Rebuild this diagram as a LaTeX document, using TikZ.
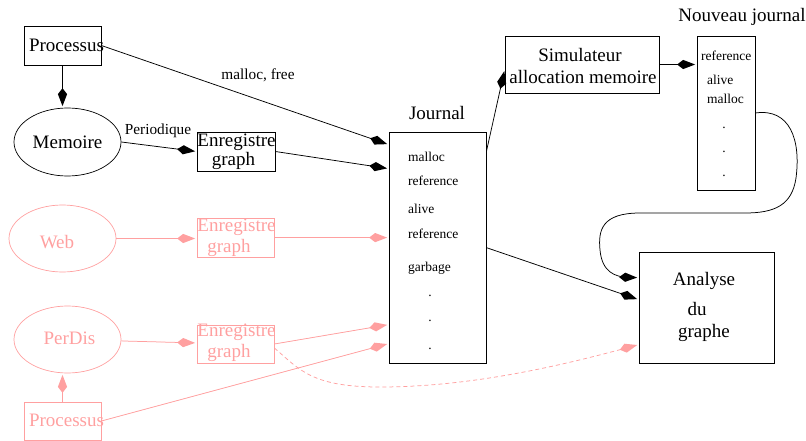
\documentclass[tikz,border=0pt]{standalone}
\usepackage{fontspec}
\setmainfont{Liberation Serif}
\usetikzlibrary{arrows.meta,shapes.geometric}
\definecolor{pinkc}{RGB}{255,160,160}
\pgfdeclarearrow{
  name = FigKite,
  parameters = {},
  setup code = {
    \pgfarrowssettipend{0pt}
    \pgfarrowssetbackend{-18pt}
    \pgfarrowssetlineend{-9pt}
    \pgfarrowsupperhullpoint{0pt}{0pt}
    \pgfarrowsupperhullpoint{-12pt}{4.6pt}
    \pgfarrowsupperhullpoint{-18pt}{0pt}
  },
  drawing code = {
    \pgfsetdash{}{0pt}
    \pgfpathmoveto{\pgfqpoint{0pt}{0pt}}
    \pgfpathlineto{\pgfqpoint{-12pt}{4.6pt}}
    \pgfpathlineto{\pgfqpoint{-18pt}{0pt}}
    \pgfpathlineto{\pgfqpoint{-12pt}{-4.6pt}}
    \pgfpathclose
    \pgfusepathqfill
  },
}
\tikzset{
  big/.style={font=\fontsize{19}{19}\selectfont, inner sep=0pt},
  med/.style={font=\fontsize{15.3}{17}\selectfont, inner sep=0pt},
  small/.style={font=\fontsize{13.5}{15}\selectfont, inner sep=0pt},
  arr/.style={-{FigKite}, shorten >=1.5pt},
  conn/.style={line width=0.75pt},
  box/.style={draw, line width=0.75pt, rectangle, inner sep=0pt},
  oval/.style={draw, line width=0.7pt, ellipse, inner sep=0pt},
  faded/.style={draw=pinkc, text=pinkc, fill=none},
  fadedline/.style={draw=pinkc, fill=pinkc},
}
\begin{document}
\begin{tikzpicture}[x=1pt,y=-1pt]
\useasboundingbox (0,0) rectangle (806,441);

% ---- black part ----
\node[box, minimum width=77pt, minimum height=39pt] (proc) at (62.5,45.5) {};
\node[big] (proct) at (66.5,45) {Processus};
\node[oval, minimum width=107pt, minimum height=68pt] (mem) at (67.5,142) {};
\node[big] (memt) at (67.5,142) {Memoire};
\node[box, minimum width=78pt, minimum height=39pt] (enr1) at (236,151.5) {};
\node[big] (enr1a) at (236.5,142) {Enregistre};
\node[big] (enr1b) at (233.5,161) {graph};

\node[box, minimum width=97pt, minimum height=231pt] (jour) at (437.5,247.5) {};
\node[big] (jourt) at (437,113) {Journal};
\node[small, anchor=base west] (j1) at (408,161.3) {malloc};
\node[small, anchor=base west] (j2) at (408,185.3) {reference};
\node[small, anchor=base west] (j3) at (408,213.9) {alive};
\node[small, anchor=base west] (j4) at (408,238.6) {reference};
\node[small, anchor=base west] (j5) at (408,271.1) {garbage};
\node[small, anchor=base] (j6) at (430,296) {.};
\node[small, anchor=base] (j7) at (430,321) {.};
\node[small, anchor=base] (j8) at (430,349) {.};

\node[box, minimum width=154pt, minimum height=57pt] (sim) at (582,64.5) {};
\node[big] (sima) at (580,55) {Simulateur};
\node[big] (simb) at (583,77) {allocation memoire};

\node[box, minimum width=58pt, minimum height=154pt] (nj) at (726,113) {};
\node[big] (njt) at (742,17) {Nouveau journal};
\node[small, anchor=base west] (n1) at (701,60.6) {reference};
\node[small, anchor=base west] (n2) at (707,84.6) {alive};
\node[small, anchor=base west] (n3) at (707,103.6) {malloc};
\node[small, anchor=base] (n4) at (724,129) {.};
\node[small, anchor=base] (n5) at (724,153) {.};
\node[small, anchor=base] (n6) at (724,176) {.};

\node[box, minimum width=135pt, minimum height=111pt] (ana) at (706.5,307.5) {};
\node[big] (anaa) at (704,281) {Analyse};
\node[big] (anab) at (697,309) {du};
\node[big] (anac) at (704,333) {graphe};

\node[med] (lmf) at (258,75) {malloc, free};
\node[med] (lper) at (158,131) {Periodique};

\draw[conn, arr] (proc.south) -- (proc.south |- mem.north);
\draw[conn, arr] (mem.east) -- (enr1.west);
\draw[conn, arr] (proc.east) -- ([yshift=-13pt]jour.north west);
\draw[conn, arr] (enr1.east) -- ([yshift=-37pt]jour.north west);
\draw[conn, arr] ([yshift=-20pt]jour.north east) -- ([yshift=-34pt]sim.north west);
\draw[conn, arr] (sim.east) -- (sim.east -| nj.west);
\draw[conn, arr] ([yshift=-116pt]jour.north east) -- ([yshift=-48pt]ana.north west);
\draw[conn, arr] (nj.east) .. controls (790,108) and (801,140) .. (796,178)
  .. controls (792,205) and (775,213) .. (745,213) -- (640,213)
  .. controls (602,213) and (598,230) .. (600,250)
  .. controls (602,272) and (615,277) .. ([yshift=-26pt]ana.north west);

% ---- pink part ----
\node[oval, faded, minimum width=107pt, minimum height=67pt] (web) at (62.5,238.5) {};
\node[big, text=pinkc] (webt) at (57,242) {Web};
\node[box, faded, minimum width=77pt, minimum height=39pt] (enr2) at (235.5,237.5) {};
\node[big, text=pinkc] (enr2a) at (236.5,227) {Enregistre};
\node[big, text=pinkc] (enr2b) at (229,248) {graph};

\node[oval, faded, minimum width=107pt, minimum height=67pt] (perdis) at (67.5,339.5) {};
\node[big, text=pinkc] (perdist) at (69.5,338) {PerDis};
\node[box, faded, minimum width=77pt, minimum height=38pt] (enr3) at (235.5,344) {};
\node[big, text=pinkc] (enr3a) at (236.5,332) {Enregistre};
\node[big, text=pinkc] (enr3b) at (229,353) {graph};

\node[box, faded, minimum width=77pt, minimum height=38pt] (proc2) at (62.5,421) {};
\node[big, text=pinkc] (proc2t) at (66.5,420) {Processus};

\draw[conn, arr, fadedline] (web.east) -- (web.east -| enr2.west);
\draw[conn, arr, fadedline] (enr2.east) -- ([yshift=-106pt]jour.north west);
\draw[conn, arr, fadedline] (perdis) -- (enr3);
\draw[conn, arr, fadedline] (enr3.east) -- ([yshift=-193pt]jour.north west);
\draw[conn, arr, fadedline] (proc2.north) -- (proc2.north |- perdis.south);
\draw[conn, arr, fadedline] (proc2.east) -- ([yshift=-212pt]jour.north west);
\draw[conn, arr, draw=pinkc, dash pattern=on 4pt off 3pt]
  ([yshift=-4pt]enr3.east) .. controls (300,370) and (312,387) .. (380,387)
  .. controls (470,387) and (560,366) .. ([yshift=-93pt]ana.north west);
\end{tikzpicture}
\end{document}
